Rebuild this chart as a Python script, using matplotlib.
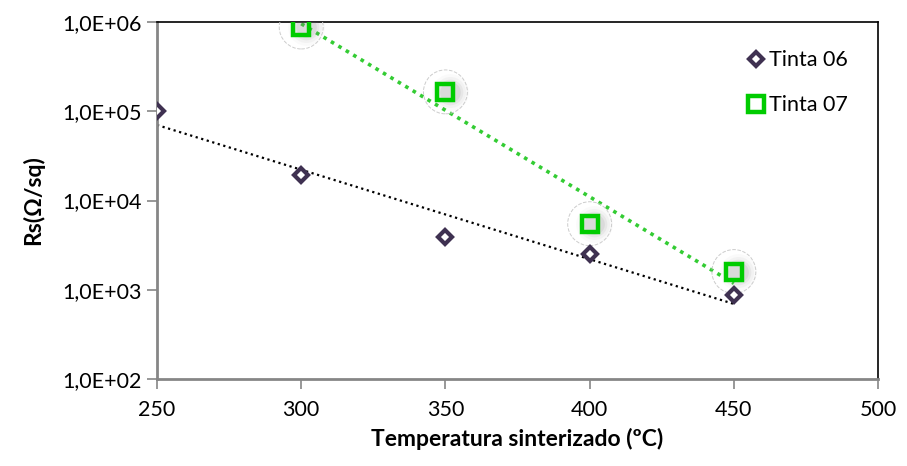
import numpy as np
import matplotlib
matplotlib.use("Agg")
import matplotlib.pyplot as plt
from matplotlib.ticker import FixedLocator, FuncFormatter

# Sheet resistance vs. sintering temperature
temp_06 = [250, 300, 350, 400, 450]
rs_06 = [1.0e5, 1.95e4, 3.9e3, 2.5e3, 870]
temp_07 = [300, 350, 400, 450]
rs_07 = [8.8e5, 1.65e5, 5.5e3, 1.6e3]
labels = ["Tinta 06", "Tinta 07"]
y_ticks = [1e2, 1e3, 1e4, 1e5, 1e6]
x_ticks = [250, 300, 350, 400, 450, 500]

plt.rcParams["font.family"] = ["Lato", "DejaVu Sans"]

fig = plt.figure(figsize=(9.07, 4.66), dpi=100)
ax = fig.add_axes([0.1731, 0.1867, 0.795, 0.766])
ax.set_yscale("log")
ax.set_xlim(250, 500)
ax.set_ylim(1e2, 1e6)


def exp_trend(x, y):
    x = np.asarray(x, float)
    b, a = np.polyfit(x, np.log(y), 1)
    xs = np.linspace(x.min(), x.max(), 100)
    return xs, np.exp(a + b * xs)


# exponential trendlines
xs, ys = exp_trend(temp_06, rs_06)
ax.plot(xs, ys, color="black", lw=1.6, ls=(0, (1, 1.6)), zorder=2)
xs, ys = exp_trend(temp_07, rs_07)
ax.plot(xs, ys, color="#33CC33", lw=2.6, ls=(0, (1, 1.4)), zorder=2)

# soft shadow and glow outline behind the square markers
for s, a in [(700, 0.04), (500, 0.06), (340, 0.09), (220, 0.12)]:
    ax.scatter(np.array(temp_07) + 1.5, rs_07, s=s, marker="o", color="#808080",
               alpha=a, lw=0, zorder=3)
ax.scatter(temp_07, rs_07, s=1000, marker="o", facecolor="none",
           edgecolor="#cccccc", lw=0.7, linestyle="--", zorder=3)

ax.plot(temp_06, rs_06, ls="none", marker="D", ms=7.5, mew=3,
        mec="#3F3151", mfc="white", zorder=5, label=labels[0])
ax.plot(temp_07, rs_07, ls="none", marker="s", ms=11.5, mew=3.2,
        mec="#00CC00", mfc="none", zorder=5, label=labels[1])

ax.yaxis.set_major_locator(FixedLocator(y_ticks))
ax.yaxis.set_minor_locator(FixedLocator([]))
ax.yaxis.set_major_formatter(FuncFormatter(
    lambda v, p: "1,0E+{:02d}".format(int(round(np.log10(v))))))
ax.set_xticks(x_ticks)

for side in ("left", "bottom"):
    ax.spines[side].set_color("#868686")
    ax.spines[side].set_linewidth(2)
for side in ("top", "right"):
    ax.spines[side].set_color("black")
    ax.spines[side].set_linewidth(1.2)
ax.tick_params(axis="both", which="major", direction="out", length=7,
               width=1.2, color="#868686", labelsize=15.5, pad=4)
ax.tick_params(axis="x", pad=8)

ax.set_xlabel("Temperatura sinterizado (ºC)", fontsize=16.5, fontweight="bold",
              labelpad=6)
ax.set_ylabel("Rs(Ω/sq)", fontsize=16.5, fontweight="bold", labelpad=13)

leg = ax.legend(loc="upper right", bbox_to_anchor=(0.985, 0.975), frameon=False,
                fontsize=15.5, handlelength=0.6, handletextpad=0.3,
                labelspacing=1.15)

fig.savefig("out.png", dpi=100)
